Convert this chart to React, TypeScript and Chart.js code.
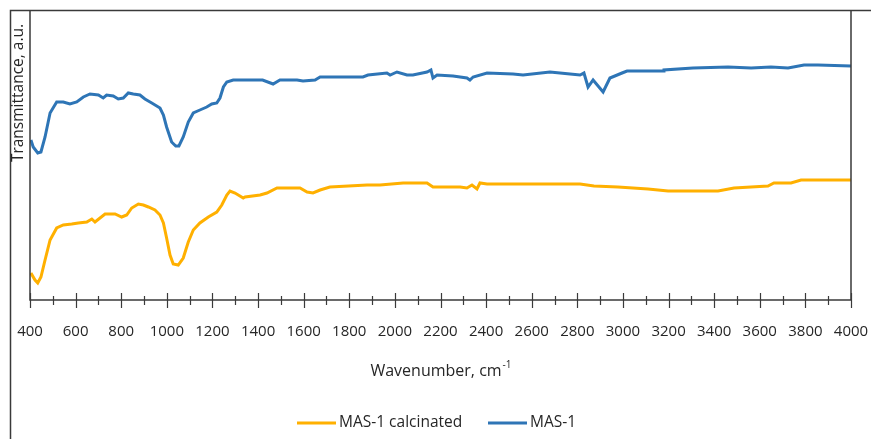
import React, { useEffect, useRef } from "react";
import { Chart, registerables } from "chart.js";

Chart.register(...registerables);

// MAS-1 (blue)
const blueWavenumbers = [404, 414, 434, 448, 466, 488, 517, 546, 575, 605, 634, 663, 700, 721, 736, 765, 787, 809, 831, 853, 882, 904, 934, 970, 985, 999, 1021, 1039, 1053, 1072, 1094, 1116, 1145, 1175, 1197, 1219, 1233, 1248, 1263, 1291, 1343, 1420, 1466, 1496, 1571, 1597, 1650, 1672, 1860, 1882, 1965, 1979, 2009, 2053, 2079, 2141, 2158, 2167, 2185, 2255, 2316, 2329, 2343, 2404, 2518, 2562, 2680, 2768, 2812, 2829, 2847, 2869, 2913, 2943, 2996, 3018, 3176, 3180, 3307, 3461, 3562, 3649, 3724, 3794, 3855, 4000];
const blueValues = [160, 153, 147, 148, 163, 187, 198, 198, 196, 198, 203, 206, 205, 202, 205, 204, 201, 202, 207, 206, 205, 201, 197, 192, 185, 173, 158, 154, 154, 163, 178, 187, 190, 193, 196, 197, 202, 213, 218, 220, 220, 220, 216, 220, 220, 219, 220, 223, 223, 225, 227, 225, 228, 225, 225, 228, 230, 222, 225, 224, 222, 220, 223, 227, 226, 225, 228, 226, 225, 227, 213, 220, 208, 222, 227, 229, 229, 230, 232, 233, 232, 233, 232, 235, 235, 234];

// MAS-1 calcinated (yellow)
const yellowWavenumbers = [404, 422, 434, 448, 466, 488, 517, 546, 583, 612, 649, 671, 685, 729, 773, 802, 824, 846, 875, 897, 919, 948, 970, 985, 999, 1014, 1028, 1050, 1072, 1094, 1116, 1145, 1182, 1219, 1241, 1263, 1277, 1299, 1335, 1343, 1409, 1439, 1483, 1496, 1584, 1615, 1641, 1672, 1715, 1878, 1935, 2036, 2141, 2167, 2286, 2316, 2338, 2360, 2373, 2404, 2812, 2873, 2978, 3110, 3198, 3417, 3487, 3636, 3662, 3737, 3781, 4000];
const yellowValues = [27, 20, 17, 23, 40, 60, 72, 75, 76, 77, 78, 81, 78, 86, 86, 83, 85, 92, 96, 95, 93, 90, 85, 77, 62, 45, 36, 35, 42, 58, 70, 77, 83, 88, 95, 105, 109, 107, 102, 103, 105, 107, 112, 112, 112, 108, 107, 110, 113, 115, 115, 117, 117, 113, 113, 112, 115, 111, 117, 116, 116, 114, 113, 111, 109, 109, 112, 114, 117, 117, 120, 120];

const xMin = 400;
const xMax = 4000;
const xStep = 200;
const seriesNames = ["MAS-1 calcinated", "MAS-1"];
const seriesColors = ["#FFB000", "#2E75B6"];
const xTitle = "Wavenumber, cm";
const xTitleSup = "-1";
const yTitle = "Transmittance, a.u.";

const FONT = "'Open Sans', 'Liberation Sans', sans-serif";
const TEXT = "#262626";

export default function App() {
  const ref = useRef<HTMLCanvasElement | null>(null);

  useEffect(() => {
    document.body.style.margin = "0";
    const canvas = ref.current;
    if (!canvas) return;

    const decor = {
      id: "decor",
      afterDraw(chart: any) {
        const ctx = chart.ctx as CanvasRenderingContext2D;
        const area = chart.chartArea;
        const xs = chart.scales.x;
        ctx.save();
        // outer frame
        ctx.strokeStyle = "#3a3a3a";
        ctx.lineWidth = 1.5;
        ctx.beginPath();
        ctx.moveTo(871, 10.5);
        ctx.lineTo(10.5, 10.5);
        ctx.lineTo(10.5, 439);
        ctx.stroke();
        // axes
        ctx.lineWidth = 1.5;
        ctx.beginPath();
        ctx.moveTo(area.left, area.top);
        ctx.lineTo(area.left, area.bottom);
        ctx.lineTo(area.right, area.bottom);
        ctx.lineTo(area.right, area.top);
        ctx.stroke();
        // ticks
        ctx.lineWidth = 1.2;
        for (let v = xMin; v <= xMax; v += xStep / 2) {
          const px = Math.round(xs.getPixelForValue(v)) + 0.5;
          const major = (v - xMin) % xStep === 0;
          ctx.beginPath();
          ctx.moveTo(px, area.bottom - (major ? 7 : 4));
          ctx.lineTo(px, area.bottom + (major ? 8 : 5));
          ctx.stroke();
        }
        // x title
        ctx.fillStyle = TEXT;
        ctx.font = `16px ${FONT}`;
        ctx.textBaseline = "middle";
        const w1 = ctx.measureText(xTitle).width;
        ctx.font = `10px ${FONT}`;
        const w2 = ctx.measureText(xTitleSup).width;
        const cx = (area.left + area.right) / 2;
        const start = cx - (w1 + w2) / 2;
        ctx.font = `16px ${FONT}`;
        ctx.textAlign = "left";
        ctx.fillText(xTitle, start, 371);
        ctx.font = `10px ${FONT}`;
        ctx.fillText(xTitleSup, start + w1 + 1, 365);
        // y title
        ctx.save();
        ctx.translate(19, 93);
        ctx.rotate(-Math.PI / 2);
        ctx.font = `15.5px ${FONT}`;
        ctx.textAlign = "center";
        ctx.fillText(yTitle, 0, 0);
        ctx.restore();
        // legend
        const legendY = 423;
        const items = [
          { x: 297, name: seriesNames[0], color: seriesColors[0] },
          { x: 488, name: seriesNames[1], color: seriesColors[1] },
        ];
        ctx.font = `15.5px ${FONT}`;
        ctx.textAlign = "left";
        for (const it of items) {
          ctx.strokeStyle = it.color;
          ctx.lineWidth = 3;
          ctx.beginPath();
          ctx.moveTo(it.x, legendY);
          ctx.lineTo(it.x + 39, legendY);
          ctx.stroke();
          ctx.fillStyle = TEXT;
          ctx.fillText(it.name, it.x + 42, legendY);
        }
        ctx.restore();
      },
    };

    const chart = new Chart(canvas, {
      type: "line",
      data: {
        datasets: [
          {
            label: seriesNames[0],
            data: yellowWavenumbers.map((x, i) => ({ x, y: yellowValues[i] })),
            borderColor: seriesColors[0],
            backgroundColor: seriesColors[0],
            borderWidth: 3,
            pointRadius: 0,
            tension: 0,
          },
          {
            label: seriesNames[1],
            data: blueWavenumbers.map((x, i) => ({ x, y: blueValues[i] })),
            borderColor: seriesColors[1],
            backgroundColor: seriesColors[1],
            borderWidth: 3,
            pointRadius: 0,
            tension: 0,
          },
        ],
      },
      options: {
        animation: false,
        responsive: false,
        maintainAspectRatio: false,
        layout: { padding: { left: 30, right: 20, top: 10, bottom: 0 } },
        plugins: { legend: { display: false }, tooltip: { enabled: false } },
        scales: {
          x: {
            type: "linear",
            min: xMin,
            max: xMax,
            border: { display: false },
            grid: { display: false },
            ticks: {
              stepSize: xStep,
              padding: 15,
              color: TEXT,
              font: { family: FONT, size: 15 },
              maxRotation: 0,
              autoSkip: false,
              callback: (v: any) => String(v),
            },
            afterFit: (s: any) => {
              s.height = 139;
              s.paddingLeft = 0;
              s.paddingRight = 0;
            },
          },
          y: {
            min: 0,
            max: 290,
            display: false,
          },
        },
      },
      plugins: [decor],
    });

    return () => chart.destroy();
  }, []);

  return (
    <div style={{ width: 871, height: 439, background: "#fff" }}>
      <canvas ref={ref} width={871} height={439} style={{ display: "block" }} />
    </div>
  );
}
